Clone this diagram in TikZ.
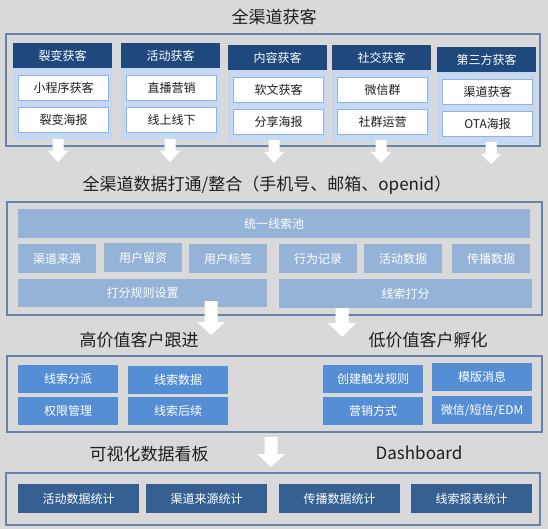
\documentclass[tikz,border=0pt]{standalone}
\usepackage{fontspec}
\newfontfamily\cjk{Noto Sans CJK SC}
\definecolor{bgray}{HTML}{D9D9D9}
\definecolor{framec}{HTML}{6683AE}
\definecolor{navy}{HTML}{1F497D}
\definecolor{panelc}{HTML}{C6D9F1}
\definecolor{itemline}{HTML}{8EB4E3}
\definecolor{poolc}{HTML}{95B3D7}
\definecolor{midc}{HTML}{558ED5}
\definecolor{statc}{HTML}{376092}
\definecolor{textdark}{HTML}{1E1E1E}
\begin{document}
\begin{tikzpicture}[x=1pt,y=-1pt,
  heading/.style={font=\cjk\fontsize{17}{20}\selectfont,text=textdark,inner sep=0},
  frame/.style={draw=framec,line width=1.5pt},
  cell/.style={anchor=north west,inner sep=0,font=\cjk\fontsize{12}{14}\selectfont},
  hdrbox/.style={cell,fill=navy,text=white,minimum width=99,minimum height=25},
  itembox/.style={cell,fill=white,draw=itemline,line width=1.2pt,text=textdark,minimum width=90,minimum height=25},
  poolbox/.style={cell,fill=poolc,text=white},
  leadbox/.style={cell,fill=midc,text=white,minimum width=100,minimum height=28},
  statbox/.style={cell,fill=statc,text=white,minimum width=121,minimum height=29}]
  \fill[bgray] (0,0) rectangle (548,529);
  \useasboundingbox (0,0) rectangle (548,529);

  % all-channel acquisition
  \node[heading] (t1) at (274,17) {全渠道获客};
  \draw[frame] (6,34) rectangle (540,146);
  \foreach \i/\x/\dy/\hd/\ta/\tb in {1/13/0/裂变获客/小程序获客/裂变海报,
      2/121/0/活动获客/直播营销/线上线下, 3/228/2/内容获客/软文获客/分享海报,
      4/332/2/社交获客/微信群/社群运营, 5/437/4/第三方获客/渠道获客/OTA海报} {
    \fill[panelc] (\x,43+\dy) rectangle ++(99,97);
    \node[hdrbox] (h\i) at (\x,43+\dy) {\hd};
    \node[itembox] (a\i) at (\x+5,75+\dy) {\ta};
    \node[itembox] (b\i) at (\x+5,107+\dy) {\tb};
  }

  % data integration
  \node[heading] (t2) at (267,185) {全渠道数据打通/整合（手机号、邮箱、openid）};
  \draw[frame] (7,202) rectangle (542,315);
  \node[poolbox,minimum width=512,minimum height=29] (pool) at (18,209) {统一线索池};
  \foreach \i/\x/\y/\t in {1/18/244/渠道来源, 2/104/243/用户留资, 3/189/244/用户标签,
      4/279/244/行为记录, 5/364/244/活动数据, 6/452/244/传播数据}
    \node[poolbox,minimum width=78,minimum height=29] (p\i) at (\x,\y) {\t};
  \node[poolbox,minimum width=249,minimum height=28] (rule) at (18,279) {打分规则设置};
  \node[poolbox,minimum width=253,minimum height=29] (score) at (279,279) {线索打分};

  % follow-up and nurturing
  \node[heading] (t3) at (139,340) {高价值客户跟进};
  \node[heading] (t4) at (428,340) {低价值客户孵化};
  \draw[frame] (7,356) rectangle (542,432);
  \foreach \i/\x/\y/\t in {1/18/365/线索分派, 2/128/366/线索数据, 3/18/397/权限管理,
      4/128/397/线索后续, 5/323/365/创建触发规则, 6/323/397/营销方式,
      7/432/363/模版消息, 8/432/396/{微信/短信/EDM}}
    \node[leadbox] (l\i) at (\x,\y) {\t};

  % dashboard
  \node[heading] (t5) at (149,454) {可视化数据看板};
  \node[heading] (t6) at (419,453) {Dashboard};
  \draw[frame] (6,473) rectangle (540,525);
  \foreach \i/\x/\t in {1/18/活动数据统计, 2/146/渠道来源统计, 3/279/传播数据统计, 4/411/线索报表统计}
    \node[statbox] (s\i) at (\x,484) {\t};

  % white block arrows
  \foreach \c/\t/\h/\b/\s/\w in {58/139/151/162/5.5/10, 170/139/151/162/5.5/10,
      274/140/152/163/5.5/10, 381/140/152/163/5.5/10, 491/142/154/164/5.5/10,
      211/301/322/335/6.5/14, 342/308/323/337/6.5/14, 271/437/454/467/6.5/14}
    \fill[white] (\c-\s,\t) -- (\c+\s,\t) -- (\c+\s,\h) -- (\c+\w,\h)
      -- (\c,\b) -- (\c-\w,\h) -- (\c-\s,\h) -- cycle;
\end{tikzpicture}
\end{document}
